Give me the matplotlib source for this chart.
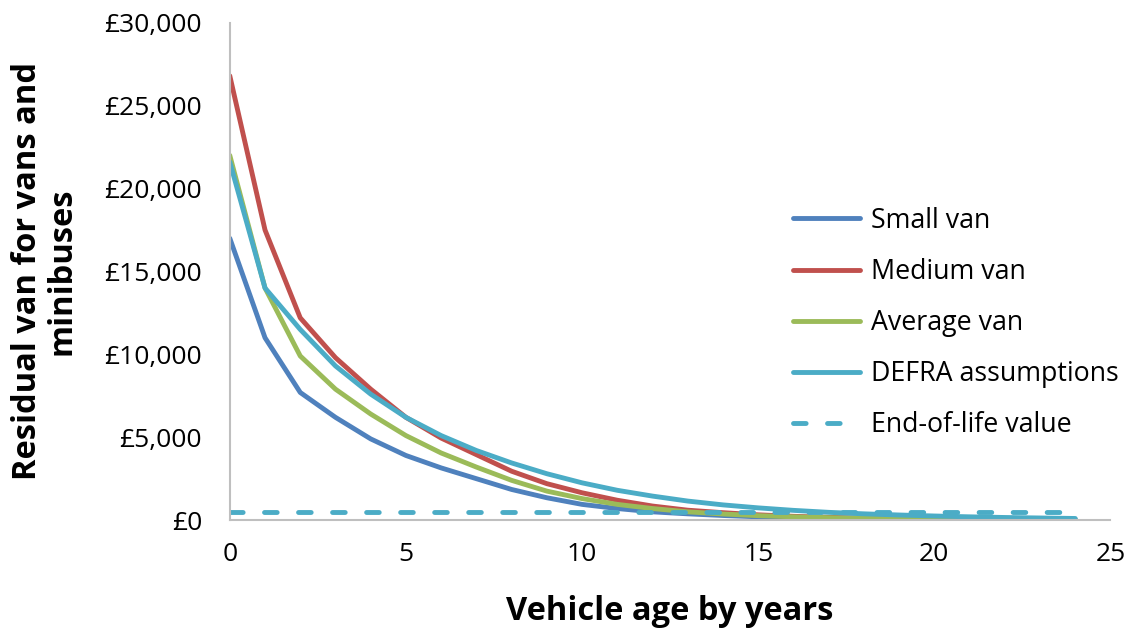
import matplotlib
matplotlib.use("Agg")
import matplotlib.pyplot as plt
from matplotlib.ticker import FuncFormatter, MultipleLocator

plt.rcParams['font.family'] = ['Open Sans', 'DejaVu Sans']

# Vehicle age (years) and residual values (GBP)
age = list(range(25))
small_van = [17000, 11000, 7700, 6200, 4900, 3900, 3150, 2500, 1850, 1350, 950,
             700, 500, 380, 280, 200, 150, 110, 80, 60, 45, 35, 25, 20, 15]
medium_van = [26800, 17500, 12200, 9800, 7900, 6200, 4950, 3950, 2950, 2200, 1650,
              1200, 850, 600, 450, 320, 230, 170, 120, 90, 65, 50, 40, 30, 20]
average_van = [22000, 14000, 9900, 7900, 6400, 5100, 4050, 3200, 2400, 1750, 1300,
               950, 700, 500, 370, 270, 200, 150, 110, 80, 60, 45, 35, 25, 20]
defra = [21600, 14000, 11500, 9300, 7600, 6200, 5100, 4200, 3450, 2800, 2250,
         1800, 1450, 1150, 920, 740, 590, 470, 380, 310, 250, 200, 160, 130, 100]
end_of_life = [500] * 25

series = [
    ("Small van", small_van, "#4F81BD"),
    ("Medium van", medium_van, "#C0504D"),
    ("Average van", average_van, "#9BBB59"),
    ("DEFRA assumptions", defra, "#4BACC6"),
]

fig = plt.figure(figsize=(11.32, 6.32), dpi=100)
ax = fig.add_axes([0.203, 0.177, 0.778, 0.787])

for name, vals, col in series:
    ax.plot(age, vals, color=col, lw=3.5, label=name, solid_capstyle='round')
ax.plot(age, end_of_life, color="#4BACC6", lw=3.5, ls=(0, (2.6, 4.4)),
        dash_capstyle='round', label="End-of-life value")

ax.set_xlim(0, 25)
ax.set_ylim(0, 30000)
ax.xaxis.set_major_locator(MultipleLocator(5))
ax.yaxis.set_major_locator(MultipleLocator(5000))
ax.yaxis.set_major_formatter(FuncFormatter(lambda v, p: f"£{int(v):,}"))
ax.tick_params(length=0, labelsize=19)
ax.tick_params(axis='y', pad=20)
ax.tick_params(axis='x', pad=16)

for s in ["top", "right"]:
    ax.spines[s].set_visible(False)
for s in ["left", "bottom"]:
    ax.spines[s].set_color("#BFBFBF")
    ax.spines[s].set_linewidth(1.5)

ax.set_xlabel("Vehicle age by years", fontsize=23.5, fontweight='bold', labelpad=20)
ax.set_ylabel("Residual van for vans and\nminibuses", fontsize=23.5, fontweight='bold',
              labelpad=19, linespacing=1.05)

ax.legend(loc='center left', bbox_to_anchor=(0.7005, 0.489),
          bbox_transform=fig.transFigure, frameon=False, borderpad=0,
          borderaxespad=0, fontsize=19.3, handlelength=2.5, handletextpad=0.4,
          labelspacing=0.86)

fig.savefig("out.png", dpi=100)
